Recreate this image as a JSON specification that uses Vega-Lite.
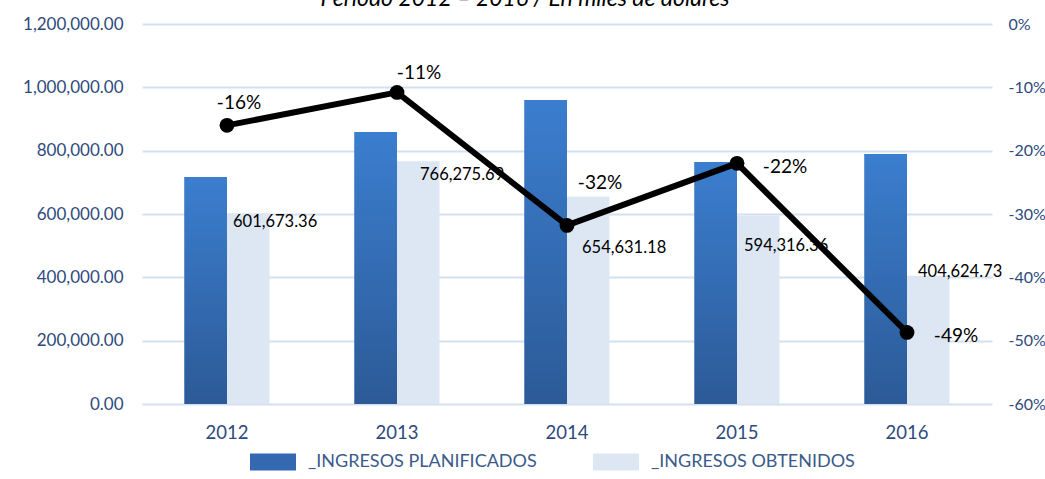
{
  "$schema": "https://vega.github.io/schema/vega-lite/v6.json",
  "autosize": {"type": "none"},
  "padding": {"left": 142, "top": 24, "right": 53, "bottom": 75},
  "width": 850,
  "height": 380,
  "background": "white",
  "title": {
    "text": "Período 2012 – 2016 /  En miles de dólares",
    "font": "Lato",
    "fontStyle": "italic",
    "fontWeight": "normal",
    "fontSize": 23,
    "color": "#000000",
    "baseline": "alphabetic",
    "anchor": "middle",
    "offset": 0,
    "dx": -42,
    "dy": 14
  },
  "config": {
    "view": {"stroke": null},
    "font": "Lato",
    "axis": {"labelFont": "Lato", "labelColor": "#2E4A7D", "domain": false, "ticks": false, "title": null},
    "legend": {"labelFont": "Lato"}
  },
  "datasets": {
    "bars": [
      {"year": "2012", "serie": "_INGRESOS PLANIFICADOS", "valor": 717000},
      {"year": "2012", "serie": "_INGRESOS OBTENIDOS", "valor": 601673.36},
      {"year": "2013", "serie": "_INGRESOS PLANIFICADOS", "valor": 859000},
      {"year": "2013", "serie": "_INGRESOS OBTENIDOS", "valor": 766275.69},
      {"year": "2014", "serie": "_INGRESOS PLANIFICADOS", "valor": 960000},
      {"year": "2014", "serie": "_INGRESOS OBTENIDOS", "valor": 654631.18},
      {"year": "2015", "serie": "_INGRESOS PLANIFICADOS", "valor": 764000},
      {"year": "2015", "serie": "_INGRESOS OBTENIDOS", "valor": 594316.36},
      {"year": "2016", "serie": "_INGRESOS PLANIFICADOS", "valor": 789500},
      {"year": "2016", "serie": "_INGRESOS OBTENIDOS", "valor": 404624.73}
    ],
    "pct": [
      {"year": "2012", "pct": -0.16},
      {"year": "2013", "pct": -0.108},
      {"year": "2014", "pct": -0.318},
      {"year": "2015", "pct": -0.22},
      {"year": "2016", "pct": -0.487}
    ]
  },
  "encoding": {
    "x": {
      "field": "year",
      "type": "nominal",
      "scale": {"paddingInner": 0.5, "paddingOuter": 0.25},
      "axis": {"labelAngle": 0, "labelFontSize": 18.5, "labelPadding": 19, "grid": false}
    }
  },
  "layer": [
    {
      "encoding": {
        "y": {
          "field": "valor",
          "type": "quantitative",
          "scale": {"domain": [0, 1200000], "nice": false},
          "axis": {"format": ",.2f", "values": [0, 200000, 400000, 600000, 800000, 1000000, 1200000], "labelFontSize": 17, "labelPadding": 19, "gridColor": "#D3E0F0", "gridWidth": 2}
        }
      },
      "layer": [
        {
          "data": {"name": "bars"},
          "mark": {"type": "bar"},
          "encoding": {
            "xOffset": {"field": "serie", "type": "nominal", "sort": ["_INGRESOS PLANIFICADOS", "_INGRESOS OBTENIDOS"]},
            "color": {
              "field": "serie",
              "type": "nominal",
              "scale": {
                "domain": ["_INGRESOS PLANIFICADOS", "_INGRESOS OBTENIDOS"],
                "range": ["#3469B2", "#DCE7F3"]
              },
              "legend": {
                "orient": "none",
                "legendX": 108,
                "legendY": 415,
                "direction": "horizontal",
                "title": null,
                "symbolType": "M-1,-0.37H1V0.37H-1Z",
                "symbolSize": 2116,
                "symbolStrokeWidth": 0,
                "labelFontSize": 18,
                "labelLimit": 400,
                "labelColor": "#3B5B8A",
                "labelOffset": 12,
                "columnPadding": 56
              }
            }
          }
        },
        {
          "data": {"name": "bars"},
          "transform": [{"filter": "datum.serie == '_INGRESOS PLANIFICADOS'"}],
          "mark": {
            "type": "bar",
            "color": {"gradient": "linear", "x1": 0, "y1": 0, "x2": 0, "y2": 1, "stops": [{"offset": 0, "color": "#3B7ECF"}, {"offset": 1, "color": "#2C5A97"}]}
          },
          "encoding": {
            "xOffset": {"field": "serie", "type": "nominal", "sort": ["_INGRESOS PLANIFICADOS", "_INGRESOS OBTENIDOS"]}
          }
        },
        {
          "data": {"name": "bars"},
          "transform": [{"filter": "datum.serie == '_INGRESOS OBTENIDOS' && datum.year == '2012'"}],
          "mark": {"type": "text", "align": "left", "baseline": "middle", "dx": 6, "dy": 9, "fontSize": 16.5, "color": "#000000"},
          "encoding": {"text": {"field": "valor", "type": "quantitative", "format": ",.2f"}}
        },
        {
          "data": {"name": "bars"},
          "transform": [{"filter": "datum.serie == '_INGRESOS OBTENIDOS' && datum.year == '2013'"}],
          "mark": {"type": "text", "align": "left", "baseline": "middle", "dx": 23, "dy": 14, "fontSize": 16.5, "color": "#000000"},
          "encoding": {"text": {"field": "valor", "type": "quantitative", "format": ",.2f"}}
        },
        {
          "data": {"name": "bars"},
          "transform": [{"filter": "datum.serie == '_INGRESOS OBTENIDOS' && datum.year == '2014'"}],
          "mark": {"type": "text", "align": "left", "baseline": "middle", "dx": 15, "dy": 51, "fontSize": 16.5, "color": "#000000"},
          "encoding": {"text": {"field": "valor", "type": "quantitative", "format": ",.2f"}}
        },
        {
          "data": {"name": "bars"},
          "transform": [{"filter": "datum.serie == '_INGRESOS OBTENIDOS' && datum.year == '2015'"}],
          "mark": {"type": "text", "align": "left", "baseline": "middle", "dx": 7, "dy": 30, "fontSize": 16.5, "color": "#000000"},
          "encoding": {"text": {"field": "valor", "type": "quantitative", "format": ",.2f"}}
        },
        {
          "data": {"name": "bars"},
          "transform": [{"filter": "datum.serie == '_INGRESOS OBTENIDOS' && datum.year == '2016'"}],
          "mark": {"type": "text", "align": "left", "baseline": "middle", "dx": 11, "dy": -4, "fontSize": 16.5, "color": "#000000"},
          "encoding": {"text": {"field": "valor", "type": "quantitative", "format": ",.2f"}}
        }
      ]
    },
    {
      "data": {"name": "pct"},
      "transform": [{"calculate": "replace(format(datum.pct, '.0%'), '\u2212', '-')", "as": "etiqueta"}],
      "encoding": {
        "y": {
          "field": "pct",
          "type": "quantitative",
          "scale": {"domain": [-0.6, 0], "nice": false},
          "axis": {"orient": "right", "values": [-0.6, -0.5, -0.4, -0.3, -0.2, -0.1, 0], "labelExpr": "replace(format(datum.value, '.0%'), '\u2212', '-')", "labelFontSize": 16, "labelPadding": 16, "grid": false}
        }
      },
      "layer": [
        {"mark": {"type": "line", "color": "#000000", "strokeWidth": 6}},
        {"mark": {"type": "point", "filled": true, "color": "#000000", "size": 220, "opacity": 1}},
        {
          "transform": [{"filter": "datum.year == '2012'"}],
          "mark": {"type": "text", "align": "center", "baseline": "middle", "dx": 12, "dy": -22, "fontSize": 19, "color": "#000000"},
          "encoding": {"text": {"field": "etiqueta", "type": "nominal"}}
        },
        {
          "transform": [{"filter": "datum.year == '2013'"}],
          "mark": {"type": "text", "align": "center", "baseline": "middle", "dx": 22, "dy": -19, "fontSize": 19, "color": "#000000"},
          "encoding": {"text": {"field": "etiqueta", "type": "nominal"}}
        },
        {
          "transform": [{"filter": "datum.year == '2014'"}],
          "mark": {"type": "text", "align": "center", "baseline": "middle", "dx": 33, "dy": -42, "fontSize": 19, "color": "#000000"},
          "encoding": {"text": {"field": "etiqueta", "type": "nominal"}}
        },
        {
          "transform": [{"filter": "datum.year == '2015'"}],
          "mark": {"type": "text", "align": "center", "baseline": "middle", "dx": 48, "dy": 4, "fontSize": 19, "color": "#000000"},
          "encoding": {"text": {"field": "etiqueta", "type": "nominal"}}
        },
        {
          "transform": [{"filter": "datum.year == '2016'"}],
          "mark": {"type": "text", "align": "center", "baseline": "middle", "dx": 49, "dy": 4, "fontSize": 19, "color": "#000000"},
          "encoding": {"text": {"field": "etiqueta", "type": "nominal"}}
        }
      ]
    }
  ],
  "resolve": {"scale": {"y": "independent"}}
}
